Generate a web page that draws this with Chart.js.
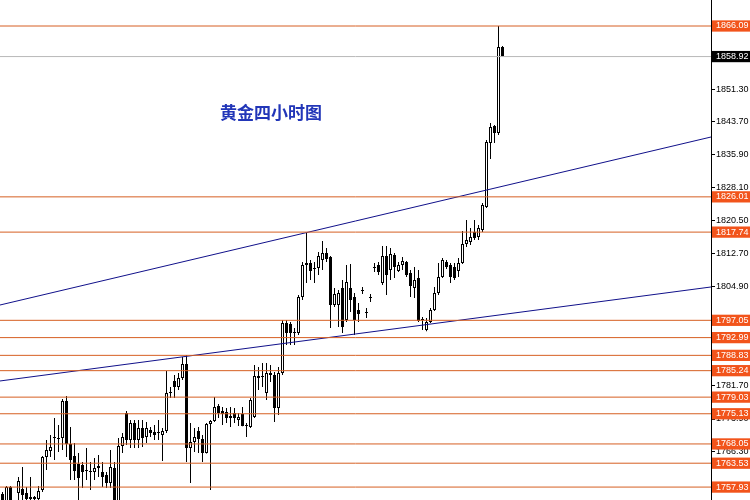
<!DOCTYPE html>
<html>
<head>
<meta charset="utf-8">
<script src="https://cdn.jsdelivr.net/npm/chart.js@4.4.1/dist/chart.umd.min.js"></script>
<style>
    html, body { margin: 0; padding: 0; background: #fff; }
    #khung { width: 750px; height: 500px; }
</style>
</head>
<body>
<div id="khung"><canvas id="chartVang" width="750" height="500"></canvas></div>
<script>
// ==================== DỮ LIỆU ====================
const tieuDe = "黄金四小时图";

const giaMo = [
    1756.31, 1753.73, 1757.95, 1753.73, 1756.55, 1757.48, 1756.55, 1755.14, 1755.61, 1755.14,
    1757.25, 1764.98, 1766.39, 1769.44, 1769.21, 1769.44, 1778.12, 1768.03, 1765.22, 1763.34,
    1763.11, 1761.70, 1761.47, 1761.47, 1762.40, 1761.47, 1760.76, 1758.89, 1762.40, 1753.73,
    1767.57, 1775.31, 1768.97, 1772.96, 1768.97, 1771.79, 1769.68, 1771.32, 1770.85, 1770.62,
    1770.15, 1771.09, 1780.00, 1782.82, 1781.41, 1783.52, 1786.80, 1767.10, 1768.50, 1771.09,
    1769.21, 1765.92, 1772.73, 1773.43, 1776.95, 1775.78, 1775.54, 1774.13, 1775.31, 1773.66,
    1775.07, 1772.26, 1772.02, 1774.37, 1783.99, 1783.75, 1780.00, 1784.69, 1784.22, 1776.48,
    1784.69, 1796.42, 1796.18, 1794.07, 1794.07, 1802.52, 1810.03, 1810.50, 1809.09, 1809.32,
    1811.20, 1812.84, 1811.90, 1800.64, 1800.64, 1804.63, 1797.12, 1804.63, 1802.52, 1799.47,
    1803.93, 1798.77, 1802.29, 1809.32, 1810.03, 1805.80, 1812.14, 1808.85, 1812.37, 1808.62,
    1810.03, 1810.73, 1808.15, 1804.63, 1806.98, 1797.12, 1794.78, 1796.65, 1799.47, 1803.46,
    1807.21, 1810.73, 1810.03, 1809.56, 1808.62, 1810.50, 1814.95, 1815.42, 1817.77, 1816.59,
    1818.24, 1823.63, 1838.65, 1842.63, 1840.99, 1861.16
];
const giaCao = [
    1756.78, 1758.18, 1758.18, 1754.20, 1760.30, 1762.64, 1757.95, 1760.30, 1755.84, 1758.18,
    1765.22, 1768.97, 1770.15, 1774.13, 1772.49, 1778.59, 1779.29, 1772.02, 1768.27, 1765.92,
    1763.81, 1767.10, 1763.81, 1764.75, 1765.45, 1763.81, 1761.47, 1766.63, 1763.81, 1769.44,
    1770.62, 1775.78, 1773.66, 1773.66, 1773.66, 1773.66, 1773.19, 1772.02, 1772.49, 1773.66,
    1771.79, 1785.16, 1781.41, 1784.22, 1784.69, 1788.44, 1788.91, 1772.96, 1771.79, 1772.02,
    1770.15, 1772.96, 1773.66, 1779.06, 1777.42, 1776.71, 1776.48, 1776.71, 1776.48, 1775.31,
    1776.71, 1772.96, 1778.82, 1786.57, 1786.10, 1787.03, 1787.03, 1786.57, 1784.93, 1786.10,
    1797.12, 1797.12, 1796.65, 1795.24, 1802.99, 1810.73, 1817.53, 1811.20, 1810.73, 1813.08,
    1815.66, 1814.01, 1812.14, 1804.63, 1804.16, 1806.51, 1810.03, 1810.26, 1803.46, 1801.11,
    1804.86, 1799.94, 1803.22, 1810.50, 1810.73, 1814.48, 1814.48, 1814.01, 1812.84, 1810.73,
    1811.90, 1810.97, 1808.85, 1809.56, 1808.85, 1797.83, 1797.59, 1799.94, 1804.86, 1810.50,
    1811.67, 1811.20, 1810.50, 1810.50, 1811.67, 1818.00, 1820.58, 1818.71, 1820.58, 1819.41,
    1824.57, 1839.35, 1843.34, 1842.87, 1866.09, 1861.40
];
const giaThap = [
    1752.56, 1752.56, 1752.56, 1751.80, 1754.90, 1754.90, 1754.20, 1754.43, 1754.67, 1754.67,
    1756.78, 1761.94, 1764.98, 1764.28, 1766.16, 1766.63, 1764.98, 1759.59, 1759.59, 1754.90,
    1757.72, 1759.59, 1757.25, 1759.59, 1760.30, 1757.95, 1757.72, 1757.72, 1752.56, 1753.50,
    1765.92, 1767.80, 1767.10, 1767.10, 1767.10, 1767.33, 1768.27, 1769.68, 1768.97, 1768.97,
    1764.05, 1770.62, 1778.82, 1778.82, 1780.70, 1783.05, 1763.81, 1758.89, 1766.16, 1765.92,
    1763.81, 1765.80, 1757.25, 1773.19, 1774.13, 1772.49, 1772.96, 1772.02, 1772.96, 1772.26,
    1772.20, 1769.68, 1771.79, 1774.13, 1780.70, 1781.41, 1778.36, 1782.58, 1773.19, 1774.84,
    1784.22, 1791.26, 1791.26, 1791.26, 1793.60, 1801.82, 1805.80, 1806.51, 1805.80, 1807.68,
    1808.85, 1810.73, 1795.24, 1800.17, 1795.48, 1794.07, 1796.65, 1799.00, 1793.60, 1796.65,
    1803.22, 1797.59, 1801.35, 1808.38, 1807.68, 1805.33, 1802.99, 1806.51, 1806.98, 1808.38,
    1808.85, 1807.21, 1802.52, 1802.29, 1796.65, 1794.78, 1794.50, 1796.42, 1799.24, 1802.99,
    1806.98, 1809.09, 1805.80, 1806.51, 1807.21, 1810.26, 1814.25, 1814.72, 1815.89, 1815.89,
    1817.77, 1823.40, 1834.89, 1838.65, 1840.52, 1858.92
];
const giaDong = [
    1753.73, 1757.95, 1754.43, 1752.30, 1759.36, 1756.08, 1755.14, 1755.61, 1755.14, 1757.01,
    1764.98, 1766.63, 1767.33, 1769.68, 1769.21, 1778.12, 1768.03, 1764.28, 1761.70, 1760.06,
    1761.47, 1761.70, 1761.47, 1762.40, 1762.87, 1760.30, 1758.89, 1762.64, 1753.73, 1767.57,
    1769.68, 1768.97, 1772.96, 1768.97, 1771.79, 1769.44, 1771.79, 1770.62, 1770.15, 1770.62,
    1771.09, 1780.00, 1780.00, 1781.41, 1783.52, 1786.80, 1767.10, 1768.50, 1769.68, 1769.21,
    1765.92, 1772.73, 1773.43, 1776.71, 1775.31, 1775.07, 1774.13, 1774.60, 1774.13, 1774.37,
    1772.26, 1772.26, 1778.36, 1783.99, 1783.52, 1783.75, 1784.69, 1784.22, 1776.48, 1784.69,
    1796.42, 1794.07, 1794.07, 1794.30, 1802.52, 1810.03, 1810.50, 1808.62, 1809.09, 1812.14,
    1812.84, 1811.43, 1800.64, 1803.22, 1803.46, 1795.48, 1806.04, 1801.82, 1797.12, 1798.53,
    1803.93, 1798.77, 1802.29, 1809.32, 1808.38, 1812.14, 1807.68, 1812.61, 1809.56, 1810.03,
    1810.97, 1807.68, 1805.10, 1806.51, 1796.89, 1797.12, 1796.65, 1799.47, 1803.46, 1807.21,
    1811.20, 1809.56, 1807.21, 1806.98, 1810.50, 1814.95, 1815.89, 1816.59, 1816.36, 1818.71,
    1824.10, 1838.88, 1842.40, 1840.99, 1861.16, 1858.92
];

// đường ngang (giá) và giá hiện tại
const duongNgang = [1866.09, 1826.01, 1817.74, 1797.05, 1792.99, 1788.83, 1785.24, 1779.03, 1775.13, 1768.05, 1763.53, 1757.93];
const giaHienTai = 1858.92;

// mốc trên trục giá
const mocTrucY = [1851.30, 1843.70, 1835.90, 1828.10, 1820.50, 1812.70, 1804.90, 1781.70, 1773.90, 1766.30];

// đường xu hướng: giá ở mép trái và mép phải
const xuHuongTren = [1800.64, 1840.05];
const xuHuongDuoi = [1782.82, 1804.87];

const gioiHanY = [1754.90, 1872.19];
const gioiHanX = [-0.625, 177.125];

document.addEventListener("DOMContentLoaded", function () {
    veBieuDoVang();
});

// ==================== VẼ TIÊU ĐỀ ====================
const pluginTieuDe = {
    id: "tieuDe",
    afterDatasetsDraw(chart) {
        const ctx = chart.ctx;
        ctx.save();
        ctx.font = "bold 17px 'Noto Sans CJK SC'";
        ctx.fillStyle = "#2236b8";
        ctx.textBaseline = "middle";
        ctx.fillText(tieuDe, 220, 113);
        ctx.restore();
    }
};

// ==================== ĐƯỜNG THẲNG ====================
function taoDuong(giaTrai, giaPhai, mau) {
    return {
        type: "line",
        data: [{ x: gioiHanX[0], y: giaTrai }, { x: gioiHanX[1], y: giaPhai }],
        borderColor: mau,
        borderWidth: 1,
        pointRadius: 0,
        order: 0
    };
}

// ==================== VẼ BIỂU ĐỒ NẾN ====================
function veBieuDoVang() {
    const thanNen = giaMo.map((o, i) => ({ x: i, y: [o, giaDong[i]] }));
    const bongNen = giaThap.map((l, i) => ({ x: i, y: [l, giaCao[i]] }));

    const duong = duongNgang.map(v => taoDuong(v, v, "#d65f22"));
    duong.push(taoDuong(giaHienTai, giaHienTai, "#b8b8b8"));
    duong.push(taoDuong(xuHuongTren[0], xuHuongTren[1], "#10108a"));
    duong.push(taoDuong(xuHuongDuoi[0], xuHuongDuoi[1], "#10108a"));

    const loaiMoc = (ctx) => {
        const v = ctx.tick ? ctx.tick.value : null;
        if (v === giaHienTai) return "hienTai";
        if (duongNgang.includes(v)) return "ngang";
        return "thuong";
    };

    new Chart(document.getElementById("chartVang"), {
        type: "bar",
        data: {
            datasets: [
                ...duong,
                {
                    data: thanNen,
                    barThickness: 3,
                    grouped: false,
                    minBarLength: 1,
                    inflateAmount: 0,
                    borderSkipped: false,
                    borderWidth: 1,
                    borderColor: "#000",
                    backgroundColor: ctx => giaDong[ctx.dataIndex] >= giaMo[ctx.dataIndex] ? "#fff" : "#000",
                    order: 1
                },
                {
                    data: bongNen,
                    barThickness: 1,
                    grouped: false,
                    inflateAmount: 0,
                    borderWidth: 0,
                    backgroundColor: "#000",
                    order: 2
                }
            ]
        },
        options: {
            responsive: false,
            animation: false,
            layout: { padding: 0 },
            plugins: {
                legend: { display: false },
                tooltip: { enabled: false },
                title: { display: false }
            },
            scales: {
                x: {
                    type: "linear",
                    display: false,
                    offset: false,
                    min: gioiHanX[0],
                    max: gioiHanX[1]
                },
                y: {
                    type: "linear",
                    position: "right",
                    min: gioiHanY[0],
                    max: gioiHanY[1],
                    afterBuildTicks: scale => {
                        scale.ticks = mocTrucY.concat(duongNgang, [giaHienTai]).map(v => ({ value: v }));
                    },
                    afterFit: scale => {
                        scale.width = 39;
                        scale.paddingTop = 0;
                        scale.paddingBottom = 0;
                    },
                    border: { display: true, color: "#000", width: 1 },
                    grid: {
                        drawOnChartArea: false,
                        drawTicks: true,
                        tickLength: 4,
                        tickColor: ctx => loaiMoc(ctx) === "thuong" ? "#000" : "rgba(0,0,0,0)"
                    },
                    ticks: {
                        autoSkip: false,
                        padding: 1,
                        font: { family: "'Liberation Sans', Arial, sans-serif", size: 9, lineHeight: 1.25 },
                        color: ctx => loaiMoc(ctx) === "thuong" ? "#000" : "#fff",
                        showLabelBackdrop: true,
                        backdropColor: ctx => {
                            const loai = loaiMoc(ctx);
                            if (loai === "ngang") return "#f2541b";
                            if (loai === "hienTai") return "#000";
                            return "rgba(0,0,0,0)";
                        },
                        backdropPadding: { top: 0, bottom: 0, left: 4, right: 8 },
                        callback: v => Number(v).toFixed(2)
                    }
                }
            }
        },
        plugins: [pluginTieuDe]
    });
}
</script>
</body>
</html>
